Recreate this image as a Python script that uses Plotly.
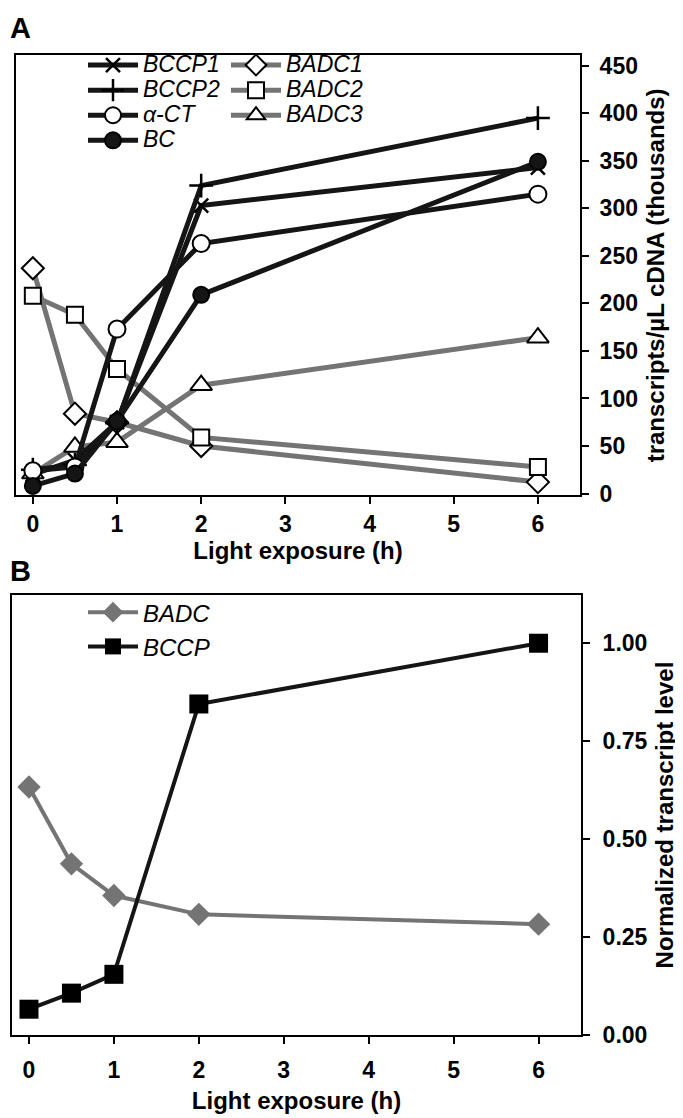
import plotly.graph_objects as go

# hours of light exposure
hours = [0, 0.5, 1, 2, 6]

# panel A: transcripts/uL cDNA (thousands)
bccp1 = [20, 35, 75, 303, 343]
bccp2 = [25, 30, 74, 324, 395]
alpha_ct = [24, 28, 173, 263, 315]
bc = [8, 21, 76, 209, 349]
badc1 = [237, 84, 75, 50, 12]
badc2 = [208, 188, 131, 59, 28]
badc3 = [21, 49, 54, 114, 164]

# panel B: normalized transcript level
badc_norm = [0.633, 0.437, 0.356, 0.308, 0.283]
bccp_norm = [0.066, 0.107, 0.155, 0.845, 1.00]

x_ticks = [0, 1, 2, 3, 4, 5, 6]
y_ticks_a = [0, 50, 100, 150, 200, 250, 300, 350, 400, 450]
y_ticks_b = [0, 0.25, 0.5, 0.75, 1.0]
y_ticktext_b = ["0.00", "0.25", "0.50", "0.75", "1.00"]

BLACK = "#151515"
GRAY = "#747474"
W, H = 683, 1118
FONT = "Liberation Sans, Arial, sans-serif"

fig = go.Figure()


def big(name):
    # legend rows in A are packed tighter than plotly's default line height
    return '<span style="font-size:23px">' + name + "</span>"


def add_a(name, y, color, symbol, size, fill, legend, lw=2):
    if symbol.endswith("thin"):
        marker = dict(symbol=symbol, size=size, line=dict(color="black", width=2.5))
    else:
        marker = dict(symbol=symbol, size=size, color=fill, line=dict(color="black", width=lw))
    fig.add_trace(go.Scatter(
        x=hours, y=y, name=big(name), mode="lines+markers",
        line=dict(color=color, width=5), marker=marker,
        xaxis="x", yaxis="y", legend=legend,
    ))


# gray first so black lines sit on top
add_a("BADC1", badc1, GRAY, "diamond", 17, "white", "legend2")
add_a("BADC2", badc2, GRAY, "square", 16, "white", "legend2")
add_a("BADC3", badc3, GRAY, "triangle-up", 19, "white", "legend2")
add_a("BCCP1", bccp1, BLACK, "x-thin", 14, None, "legend")
add_a("BCCP2", bccp2, BLACK, "cross-thin", 17, None, "legend")
add_a("α-CT", alpha_ct, BLACK, "circle", 17, "white", "legend")
add_a("BC", bc, BLACK, "circle", 16, BLACK, "legend")

fig.add_trace(go.Scatter(
    x=hours, y=badc_norm, name="BADC", mode="lines+markers",
    line=dict(color=GRAY, width=4),
    marker=dict(symbol="diamond", size=18, color=GRAY),
    xaxis="x2", yaxis="y2", legend="legend3", legendgroup="g1",
))
fig.add_trace(go.Scatter(
    x=hours, y=bccp_norm, name="BCCP", mode="lines+markers",
    line=dict(color=BLACK, width=4),
    marker=dict(symbol="square", size=19, color="black"),
    xaxis="x2", yaxis="y2", legend="legend3", legendgroup="g2",
))

tick_font = dict(family=FONT, size=23, color="black", weight="bold")
title_font = dict(family=FONT, size=24, color="black", weight="bold")

axis_common = dict(
    showline=True, linewidth=2, linecolor="black", mirror=True,
    showgrid=False, zeroline=False, ticks="outside", ticklen=7,
    tickwidth=2, tickcolor="black", tickfont=tick_font,
)

legend_common = dict(
    xanchor="left", yanchor="top", bgcolor="rgba(0,0,0,0)",
    itemwidth=50, traceorder="normal",
    font=dict(family=FONT, color="black", style="italic"),
)

fig.update_layout(
    width=W, height=H,
    margin=dict(l=0, r=0, t=0, b=0),
    paper_bgcolor="white", plot_bgcolor="white",
    xaxis=dict(
        axis_common, domain=[8 / W, 572 / W], range=[-0.2, 6.5],
        tickvals=x_ticks, anchor="y",
        title=dict(text="Light exposure (h)", font=title_font, standoff=3),
    ),
    yaxis=dict(
        axis_common, domain=[1 - 492 / H, 1 - 46 / H], range=[-2, 461],
        tickvals=y_ticks_a, side="right", anchor="x", ticklabelstandoff=6,
        title=dict(text="transcripts/µL cDNA (thousands)", font=title_font, standoff=10),
    ),
    xaxis2=dict(
        axis_common, domain=[4 / W, 573 / W], range=[-0.2, 6.5],
        tickvals=x_ticks, anchor="y2", ticklabelstandoff=6,
        title=dict(text="Light exposure (h)", font=title_font, standoff=11),
    ),
    yaxis2=dict(
        axis_common, domain=[1 - 1039 / H, 1 - 593 / H], range=[0, 1.123],
        tickvals=y_ticks_b, ticktext=y_ticktext_b, side="right", anchor="x2",
        ticklabelstandoff=8,
        title=dict(text="Normalized transcript level", font=title_font, standoff=10),
    ),
    legend=dict(legend_common, x=75 / W, y=1 - 38 / H, font_size=17),
    legend2=dict(legend_common, x=218 / W, y=1 - 38 / H, font_size=17),
    legend3=dict(legend_common, x=75 / W, y=1 - 588 / H, font_size=24,
                 traceorder="grouped", tracegroupgap=0),
    showlegend=True,
    annotations=[
        dict(text="A", x=0, y=1, xref="paper", yref="paper",
             xanchor="left", yanchor="top", showarrow=False,
             font=dict(family=FONT, size=29, color="black", weight="bold")),
        dict(text="B", x=0, y=1 - 550 / H, xref="paper", yref="paper",
             xanchor="left", yanchor="top", showarrow=False,
             font=dict(family=FONT, size=29, color="black", weight="bold")),
    ],
)

fig.write_html("out.html")
